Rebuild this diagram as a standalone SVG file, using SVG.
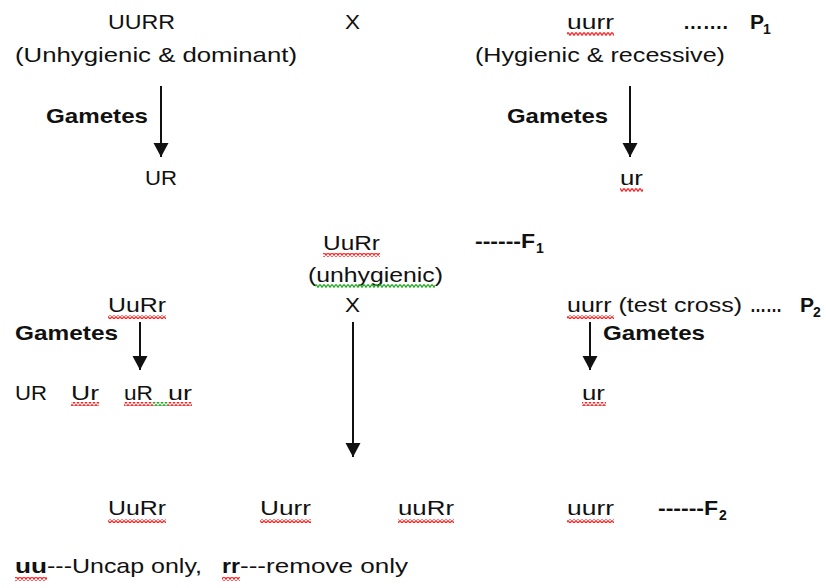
<svg xmlns="http://www.w3.org/2000/svg" width="826" height="588" viewBox="0 0 826 588">
<style>
.t{font-family:"Liberation Sans",Arial,sans-serif;font-size:21px;fill:#111}
.b{font-weight:bold}
.s{font-family:"Liberation Sans",Arial,sans-serif;font-size:14px;font-weight:bold;fill:#111}
.ar{stroke:#111;stroke-width:2;fill:none;marker-end:url(#ah)}
</style>
<defs>
<marker id="ah" markerUnits="userSpaceOnUse" markerWidth="16" markerHeight="16" refX="14" refY="7.5" orient="auto">
<path d="M0,0 L14,7.5 L0,15 z" fill="#111"/>
</marker>
<pattern id="rw" patternUnits="userSpaceOnUse" width="4" height="4">
<path d="M0,0.5 L2,3.2 L4,0.5" stroke="#f22" stroke-width="1.3" fill="none"/>
</pattern>
<pattern id="gw" patternUnits="userSpaceOnUse" width="4" height="4">
<path d="M0,0.5 L2,3.2 L4,0.5" stroke="#2a2" stroke-width="1.3" fill="none"/>
</pattern>
</defs>
<rect width="826" height="588" fill="#fff"/>

<g id="connectors">
<line class="ar" x1="161" y1="86" x2="161" y2="157"/>
<line class="ar" x1="630" y1="86" x2="630" y2="157"/>
<line class="ar" x1="140" y1="322" x2="140" y2="370"/>
<line class="ar" x1="353" y1="322" x2="353" y2="457"/>
<line class="ar" x1="590" y1="322" x2="590" y2="370"/>
</g>

<g id="p1-left">
<text class="t" x="108" y="29" textLength="67" lengthAdjust="spacingAndGlyphs">UURR</text>
<text class="t" x="15" y="62" textLength="282" lengthAdjust="spacingAndGlyphs">(Unhygienic &amp; dominant)</text>
</g>
<g id="cross1"><text class="t" x="345" y="29" textLength="15" lengthAdjust="spacingAndGlyphs">X</text></g>
<g id="p1-right">
<text class="t" x="567" y="29" textLength="47" lengthAdjust="spacingAndGlyphs">uurr</text>
<rect x="567" y="32" width="47" height="4" fill="url(#rw)"/>
<text class="t" x="475" y="62" textLength="250" lengthAdjust="spacingAndGlyphs">(Hygienic &amp; recessive)</text>
</g>
<g id="p1-label">
<text class="t b" x="683" y="29" textLength="45" lengthAdjust="spacingAndGlyphs">…….</text>
<text class="t b" x="750" y="29">P</text><text class="s" x="763" y="34">1</text>
</g>
<g id="gam1-left">
<text class="t b" x="46" y="123" textLength="102" lengthAdjust="spacingAndGlyphs">Gametes</text>
<text class="t" x="145" y="185" textLength="32" lengthAdjust="spacingAndGlyphs">UR</text>
</g>
<g id="gam1-right">
<text class="t b" x="507" y="123" textLength="101" lengthAdjust="spacingAndGlyphs">Gametes</text>
<text class="t" x="620" y="185" textLength="23" lengthAdjust="spacingAndGlyphs">ur</text>
<rect x="620" y="188" width="23" height="4" fill="url(#rw)"/>
</g>
<g id="f1">
<text class="t" x="323" y="250" textLength="57" lengthAdjust="spacingAndGlyphs">UuRr</text>
<rect x="323" y="253" width="57" height="4" fill="url(#rw)"/>
<text class="t" x="308" y="282" textLength="135" lengthAdjust="spacingAndGlyphs">(unhygienic)</text>
<rect x="315" y="284" width="120" height="4" fill="url(#gw)"/>
</g>
<g id="f1-label">
<text class="t b" x="475" y="248" textLength="60" lengthAdjust="spacingAndGlyphs">------F</text><text class="s" x="536" y="253">1</text>
</g>
<g id="p2-left">
<text class="t" x="108" y="312" textLength="58" lengthAdjust="spacingAndGlyphs">UuRr</text>
<rect x="108" y="315" width="58" height="4" fill="url(#rw)"/>
</g>
<g id="cross2"><text class="t" x="345" y="312" textLength="15" lengthAdjust="spacingAndGlyphs">X</text></g>
<g id="p2-right">
<text class="t" x="567" y="312" textLength="175" lengthAdjust="spacingAndGlyphs">uurr (test cross)</text>
<rect x="567" y="315" width="47" height="4" fill="url(#rw)"/>
<text class="t b" x="750" y="312" textLength="32" lengthAdjust="spacingAndGlyphs">……</text>
<text class="t b" x="800" y="312">P</text><text class="s" x="813" y="317">2</text>
</g>
<g id="gam2-left">
<text class="t b" x="15" y="340" textLength="103" lengthAdjust="spacingAndGlyphs">Gametes</text>
<text class="t" x="15" y="400" textLength="32" lengthAdjust="spacingAndGlyphs">UR</text>
<text class="t" x="71" y="400" textLength="28" lengthAdjust="spacingAndGlyphs">Ur</text>
<rect x="71" y="402" width="28" height="4" fill="url(#rw)"/>
<text class="t" x="124" y="400" textLength="29" lengthAdjust="spacingAndGlyphs">uR</text>
<rect x="124" y="402" width="29" height="4" fill="url(#rw)"/>
<rect x="153" y="402" width="15" height="4" fill="url(#gw)"/>
<text class="t" x="168" y="400" textLength="24" lengthAdjust="spacingAndGlyphs">ur</text>
<rect x="168" y="402" width="24" height="4" fill="url(#rw)"/>
</g>
<g id="gam2-right">
<text class="t b" x="603" y="340" textLength="102" lengthAdjust="spacingAndGlyphs">Gametes</text>
<text class="t" x="582" y="400" textLength="23" lengthAdjust="spacingAndGlyphs">ur</text>
<rect x="582" y="402" width="24" height="4" fill="url(#rw)"/>
</g>
<g id="f2">
<text class="t" x="108" y="515" textLength="58" lengthAdjust="spacingAndGlyphs">UuRr</text>
<rect x="108" y="519" width="58" height="4" fill="url(#rw)"/>
<text class="t" x="260" y="515" textLength="51" lengthAdjust="spacingAndGlyphs">Uurr</text>
<rect x="260" y="519" width="51" height="4" fill="url(#rw)"/>
<text class="t" x="398" y="515" textLength="56" lengthAdjust="spacingAndGlyphs">uuRr</text>
<rect x="398" y="519" width="56" height="4" fill="url(#rw)"/>
<text class="t" x="567" y="515" textLength="47" lengthAdjust="spacingAndGlyphs">uurr</text>
<rect x="567" y="519" width="47" height="4" fill="url(#rw)"/>
</g>
<g id="f2-label">
<text class="t b" x="658" y="515" textLength="60" lengthAdjust="spacingAndGlyphs">------F</text><text class="s" x="719" y="520">2</text>
</g>
<g id="legend">
<text class="t b" x="15" y="573" textLength="32" lengthAdjust="spacingAndGlyphs">uu</text>
<rect x="15" y="577" width="32" height="4" fill="url(#rw)"/>
<text class="t" x="47" y="573" textLength="155" lengthAdjust="spacingAndGlyphs">---Uncap only,</text>
<text class="t b" x="222" y="573" textLength="18" lengthAdjust="spacingAndGlyphs">rr</text>
<rect x="222" y="577" width="18" height="4" fill="url(#rw)"/>
<text class="t" x="240" y="573" textLength="168" lengthAdjust="spacingAndGlyphs">---remove only</text>
</g>
</svg>
